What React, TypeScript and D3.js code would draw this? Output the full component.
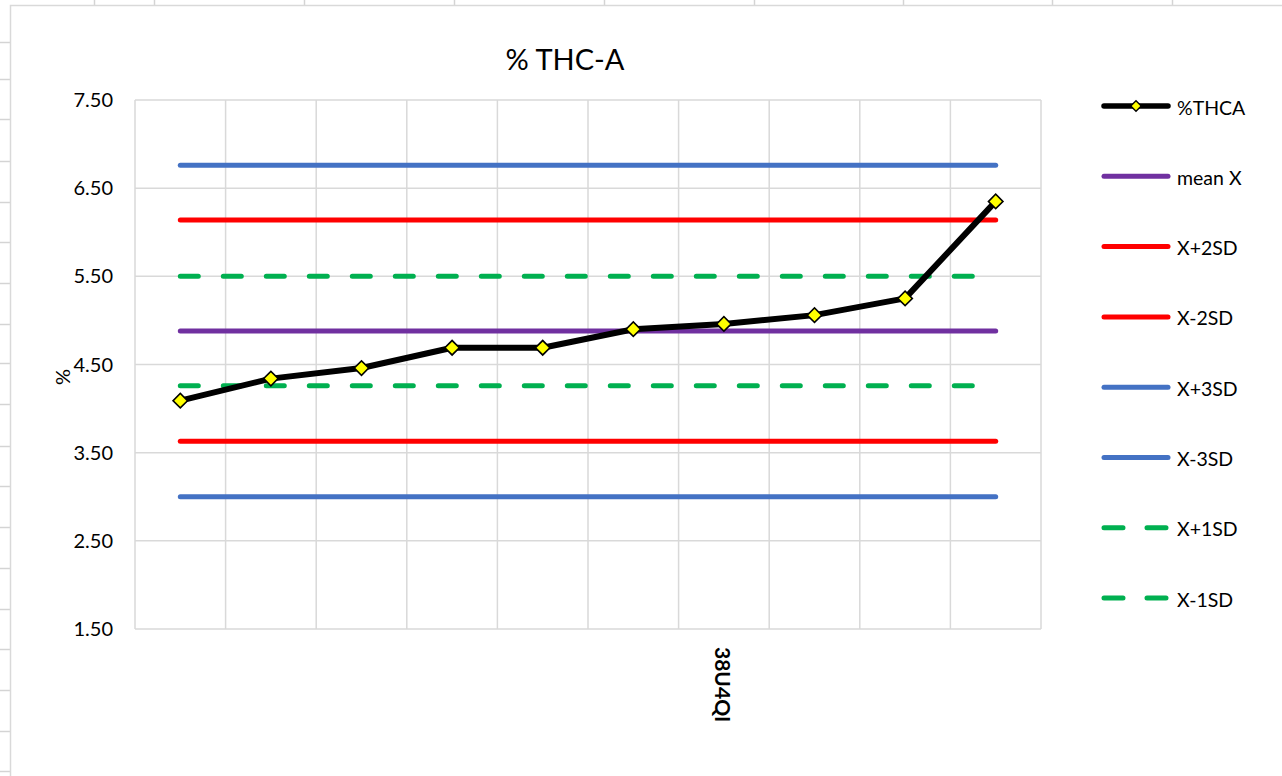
import React from "react";
import * as d3 from "d3";

const categories = ["", "", "", "", "", "", "38U4QI", "", "", ""];
const thca = [4.09, 4.34, 4.46, 4.69, 4.69, 4.9, 4.96, 5.06, 5.25, 6.35];
const meanX = [4.88, 4.88, 4.88, 4.88, 4.88, 4.88, 4.88, 4.88, 4.88, 4.88];
const xPlus2SD = [6.14, 6.14, 6.14, 6.14, 6.14, 6.14, 6.14, 6.14, 6.14, 6.14];
const xMinus2SD = [3.63, 3.63, 3.63, 3.63, 3.63, 3.63, 3.63, 3.63, 3.63, 3.63];
const xPlus3SD = [6.76, 6.76, 6.76, 6.76, 6.76, 6.76, 6.76, 6.76, 6.76, 6.76];
const xMinus3SD = [3.0, 3.0, 3.0, 3.0, 3.0, 3.0, 3.0, 3.0, 3.0, 3.0];
const xPlus1SD = [5.5, 5.5, 5.5, 5.5, 5.5, 5.5, 5.5, 5.5, 5.5, 5.5];
const xMinus1SD = [4.26, 4.26, 4.26, 4.26, 4.26, 4.26, 4.26, 4.26, 4.26, 4.26];
const yTicks = [1.5, 2.5, 3.5, 4.5, 5.5, 6.5, 7.5];

const seriesDefs = [
  { name: "%THCA", values: thca, color: "#000000", dash: null, marker: true },
  { name: "mean X", values: meanX, color: "#7030A0", dash: null, marker: false },
  { name: "X+2SD", values: xPlus2SD, color: "#FF0000", dash: null, marker: false },
  { name: "X-2SD", values: xMinus2SD, color: "#FF0000", dash: null, marker: false },
  { name: "X+3SD", values: xPlus3SD, color: "#4472C4", dash: null, marker: false },
  { name: "X-3SD", values: xMinus3SD, color: "#4472C4", dash: null, marker: false },
  { name: "X+1SD", values: xPlus1SD, color: "#00B050", dash: "18 25", marker: false },
  { name: "X-1SD", values: xMinus1SD, color: "#00B050", dash: "18 25", marker: false },
];

// decorative spreadsheet cell boundaries
const rowLines = [42, 79, 119, 161, 202, 242, 283, 324, 363, 404, 446, 486, 527, 568, 609, 649, 690, 731, 771];
const colLines = [94, 154, 304, 454, 604, 754, 903, 1052, 1172];

const FONT = "Lato, 'Open Sans', sans-serif";

export default function App() {
  const W = 1282, H = 776;
  const plot = { left: 135, right: 1041, top: 100, bottom: 629 };
  const x = d3.scaleBand<number>().domain(d3.range(categories.length)).range([plot.left, plot.right]).padding(0);
  const y = d3.scaleLinear().domain([1.5, 7.5]).range([plot.bottom, plot.top]);
  const cx = (i: number) => (x(i) as number) + x.bandwidth() / 2;
  const line = d3.line<number>().x((_, i) => cx(i)).y((v) => y(v));
  const diamond = (size: number) => d3.symbol(d3.symbolSquare, size)() as string;

  const bounds = d3.range(categories.length + 1).map((i) => plot.left + i * x.bandwidth());
  const order = [...seriesDefs.slice(1)].reverse().concat([seriesDefs[0]]);

  const legX1 = 1102, legX2 = 1170, legY0 = 106, legStep = 70.3;

  return (
    <svg width={W} height={H} style={{ position: "fixed", left: 0, top: 0, background: "#fff" }} fontFamily={FONT}>
      <rect x={0} y={0} width={W} height={H} fill="#fff" />
      {/* spreadsheet background */}
      {rowLines.map((r, i) => (
        <line key={"r" + i} x1={0} x2={10} y1={r + 0.5} y2={r + 0.5} stroke="#d4d4d4" strokeWidth={1.5} />
      ))}
      {colLines.map((c, i) => (
        <line key={"c" + i} x1={c + 0.5} x2={c + 0.5} y1={0} y2={5} stroke="#d4d4d4" strokeWidth={1.5} />
      ))}
      {/* chart area */}
      <rect x={10.5} y={5.5} width={W + 10} height={H + 10} fill="#fff" stroke="#d9d9d9" strokeWidth={1.5} />

      {/* title */}
      <text x={565} y={58} textAnchor="middle" dominantBaseline="central" fontSize={29} fill="#000">
        % THC-A
      </text>

      {/* gridlines */}
      {yTicks.map((t) => (
        <line key={"gy" + t} x1={plot.left} x2={plot.right} y1={y(t)} y2={y(t)} stroke="#d9d9d9" strokeWidth={1.5} />
      ))}
      {bounds.map((b, i) => (
        <line key={"gx" + i} x1={b} x2={b} y1={plot.top} y2={plot.bottom} stroke="#d9d9d9" strokeWidth={1.5} />
      ))}

      {/* y tick labels */}
      {yTicks.map((t) => (
        <text key={"ty" + t} x={113} y={y(t) - 1} textAnchor="end" dominantBaseline="central" fontSize={20} fill="#000">
          {d3.format(".2f")(t)}
        </text>
      ))}
      <text transform={`translate(62,377) rotate(-90)`} textAnchor="middle" dominantBaseline="central" fontSize={20} fill="#000">
        %
      </text>

      {/* x labels */}
      {categories.map((c, i) =>
        c ? (
          <text key={"tx" + i} transform={`translate(${cx(i)},647) rotate(90)`} textAnchor="start" dominantBaseline="central" fontSize={21} fontWeight="bold" fill="#000">
            {c}
          </text>
        ) : null
      )}

      {/* series */}
      {order.map((s) => (
        <path
          key={s.name}
          d={line(s.values) as string}
          fill="none"
          stroke={s.color}
          strokeWidth={s.marker ? 6 : 5}
          strokeLinecap="round"
          strokeLinejoin="round"
          strokeDasharray={s.dash ?? undefined}
        />
      ))}
      {thca.map((v, i) => (
        <path
          key={"m" + i}
          d={diamond(105)}
          transform={`translate(${cx(i)},${y(v)}) rotate(45)`}
          fill="#FFFF00"
          stroke="#000"
          strokeWidth={1.6}
        />
      ))}

      {/* legend */}
      {seriesDefs.map((s, i) => {
        const ly = legY0 + i * legStep;
        return (
          <g key={"leg" + i}>
            <line
              x1={legX1 + 2}
              x2={legX2 - 2}
              y1={ly}
              y2={ly}
              stroke={s.color}
              strokeWidth={s.marker ? 5.5 : 5}
              strokeLinecap="round"
              strokeDasharray={s.dash ? "19 24" : undefined}
            />
            {s.marker && (
              <path d={diamond(55)} transform={`translate(${(legX1 + legX2) / 2},${ly}) rotate(45)`} fill="#FFFF00" stroke="#000" strokeWidth={1.4} />
            )}
            <text x={1177} y={ly + 1} dominantBaseline="central" fontSize={19.5} fill="#000">
              {s.name}
            </text>
          </g>
        );
      })}
    </svg>
  );
}
